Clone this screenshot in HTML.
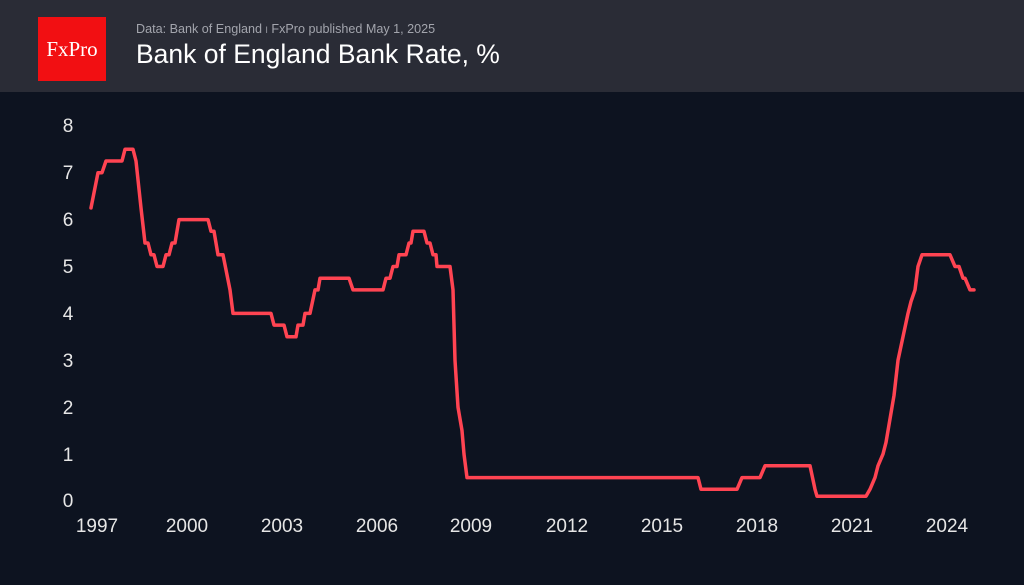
<!DOCTYPE html>
<html><head><meta charset="utf-8"><style>
body{margin:0;background:#0d1320;width:1024px;height:585px;overflow:hidden;font-family:"Liberation Sans",sans-serif}
.hdr{position:absolute;left:0;top:0;width:1024px;height:92px;background:#2a2c36}
.logo{position:absolute;left:38px;top:17px;width:68px;height:64px;background:#f20f12;color:#fff;font-family:"Liberation Serif",serif;font-size:21px;line-height:64px;text-align:center}
.sub{position:absolute;left:136px;top:22px;font-size:12.6px;color:#a3a5ad}
.ttl{position:absolute;left:136px;top:39px;font-size:26.5px;color:#fff}
</style></head><body>
<div class="hdr"><div class="logo">FxPro</div>
<div class="sub">Data: Bank of England <span style="font-size:9px">ǀ</span> FxPro published May 1, 2025</div>
<div class="ttl">Bank of England Bank Rate, %</div></div>
<svg width="1024" height="585" style="position:absolute;left:0;top:0" font-family="Liberation Sans, sans-serif" font-size="19" fill="#e6e6e6">
<g text-anchor="middle">
<text x="68" y="132">8</text><text x="68" y="179">7</text><text x="68" y="226">6</text><text x="68" y="273">5</text><text x="68" y="320">4</text><text x="68" y="367">3</text><text x="68" y="414">2</text><text x="68" y="461">1</text><text x="68" y="507">0</text>
<text x="97" y="532">1997</text><text x="187" y="532">2000</text><text x="282" y="532">2003</text><text x="377" y="532">2006</text><text x="471" y="532">2009</text><text x="567" y="532">2012</text><text x="662" y="532">2015</text><text x="757" y="532">2018</text><text x="852" y="532">2021</text><text x="947" y="532">2024</text>
</g>
<polyline fill="none" stroke="#ff4452" stroke-width="3.5" stroke-linejoin="round" stroke-linecap="round" points="
91,207.9 98,172.7 102,172.7 106,161 122,161 125,149.3 133,149.3 136,161 141,207.9 145,243 148,243 151,254.8 154,254.8 157,266.5 163,266.5 166,254.8 169,254.8 172,243 175,243 179,219.6 208,219.6 211,231.3 214,231.3 218,254.8 223,254.8 230,289.9 233,313.4 271,313.4 274,325.1 284,325.1 287,336.8 296,336.8 298,325.1 303,325.1 305,313.4 310,313.4 315,289.9 318,289.9 320,278.2 349,278.2 353,289.9 383,289.9 386,278.2 390,278.2 393,266.5 397,266.5 399,254.8 406,254.8 409,243 411,243 413,231.3 424,231.3 427,243 430,243 433,254.8 436,254.8 437,266.5 450,266.5 453,289.9 455,360.3 458,407.2 462,430.6 464,454.1 467,477.6 698,477.6 701,489.3 737,489.3 742,477.6 760,477.6 765,465.8 810,465.8 815,489.3 817,496.3 866,496.3 870,489.3 875,477.6 878,465.8 883,454.1 886,442.4 890,418.9 894,395.5 898,360.3 903,336.8 908,313.4 911,301.6 915,289.9 918,266.5 922,254.8 950,254.8 955,266.5 959,266.5 963,278.2 965,278.2 970,289.9 974,289.9"/>
</svg>
</body></html>
